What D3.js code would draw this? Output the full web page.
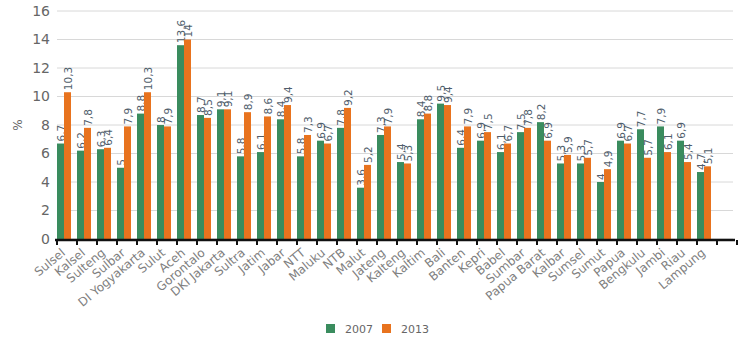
<!DOCTYPE html>
<html><head><meta charset="utf-8">
<script src="https://cdn.jsdelivr.net/npm/d3@7"></script>
<style>body{margin:0;background:#fff}svg{display:block}</style>
</head><body>
<svg id="c" width="743" height="342"></svg>
<script>
const categories = ["Sulsel","Kalsel","Sulteng","Sulbar","DI Yogyakarta","Sulut","Aceh","Gorontalo","DKI Jakarta","Sultra","Jatim","Jabar","NTT","Maluku","NTB","Malut","Jateng","Kalteng","Kaltim","Bali","Banten","Kepri","Babel","Sumbar","Papua Barat","Kalbar","Sumsel","Sumut","Papua","Bengkulu","Jambi","Riau","Lampung"];
const values2007 = [6.7,6.2,6.3,5,8.8,8,13.6,8.7,9.1,5.8,6.1,8.4,5.8,6.9,7.8,3.6,7.3,5.4,8.4,9.5,6.4,6.9,6.1,7.5,8.2,5.3,5.3,4,6.9,7.7,7.9,6.9,4.7];
const values2013 = [10.3,7.8,6.4,7.9,10.3,7.9,14,8.5,9.1,8.9,8.6,9.4,7.3,6.7,9.2,5.2,7.9,5.3,8.8,9.4,7.9,7.5,6.7,7.8,6.9,5.9,5.7,4.9,6.7,5.7,6.1,5.4,5.1];
const seriesNames = ["2007","2013"];
const yTicks = [0,2,4,6,8,10,12,14,16];
const colors = ["#3a8c5e","#e8731e"];

const svg = d3.select("#c");
const pLeft = 55, pRight = 735, pTop = 11, pBottom = 239;
const slots = d3.range(categories.length + 1);
const x = d3.scaleBand().domain(slots).range([pLeft, pRight]).paddingInner(0).paddingOuter(0);
const y = d3.scaleLinear().domain([0,16]).range([pBottom, pTop]);
const inner = d3.scaleBand().domain([0,1]).range([2, x.bandwidth()-4]);

// gridlines
svg.append("g").selectAll("line").data(yTicks).join("line")
  .attr("x1", pLeft+2).attr("x2", pRight-2)
  .attr("y1", d=>y(d)).attr("y2", d=>y(d))
  .attr("stroke", "#d8d8d8").attr("stroke-width", 1);

// y labels
svg.append("g").selectAll("text").data(yTicks).join("text")
  .attr("x", 50).attr("y", d=>y(d)).attr("dy","0.35em")
  .attr("text-anchor","end").attr("fill","#666")
  .style("font-family","Verdana, 'DejaVu Sans', sans-serif").style("font-size","14px")
  .text(d=>d);

svg.append("text").attr("transform","translate(22,125) rotate(-90)")
  .attr("text-anchor","middle").attr("fill","#666")
  .style("font-family","Verdana, 'DejaVu Sans', sans-serif").style("font-size","12px").text("%");

// bars
const series = [values2007, values2013];
series.forEach((vals, s) => {
  const g = svg.append("g");
  g.selectAll("rect").data(vals).join("rect")
    .attr("x", (d,i)=>x(i)+inner(s)).attr("width", inner.bandwidth())
    .attr("y", d=>y(d)).attr("height", d=>pBottom-y(d))
    .attr("fill", colors[s]);
  g.selectAll("text").data(vals).join("text")
    .attr("transform", (d,i)=>`translate(${x(i)+inner(s)+inner.bandwidth()/2+4},${y(d)-2}) rotate(-90)`)
    .attr("fill","#4f5d6b")
    .style("font-family","Verdana, 'DejaVu Sans', sans-serif").style("font-size","10.5px")
    .text(d=>String(d).replace(".",","));
});

// x axis
const axis = svg.append("g");
axis.append("line").attr("x1", pLeft).attr("x2", pRight).attr("y1", pBottom+1).attr("y2", pBottom+1)
  .attr("stroke","#111").attr("stroke-width",2.5);
axis.selectAll(".tk").data(d3.range(categories.length+2)).join("line")
  .attr("x1", d=>pLeft+2+d*x.step()).attr("x2", d=>pLeft+2+d*x.step())
  .attr("y1", pBottom+1).attr("y2", pBottom+6).attr("stroke","#111").attr("stroke-width",2);

svg.append("g").selectAll("text").data(categories).join("text")
  .attr("transform", (d,i)=>`translate(${x(i)+x.bandwidth()/2+1},${pBottom+15}) rotate(-40)`)
  .attr("text-anchor","end").attr("fill","#808080")
  .style("font-family","Verdana, 'DejaVu Sans', sans-serif").style("font-size","12px")
  .text(d=>d);

// legend
const lg = svg.append("g").attr("transform","translate(326,324)");
seriesNames.forEach((n,i)=>{
  const gx = i*56;
  lg.append("rect").attr("x",gx).attr("y",0).attr("width",9).attr("height",9).attr("fill",colors[i]);
  lg.append("text").attr("x",gx+19).attr("y",8.5).attr("fill","#666")
    .style("font-family","Verdana, 'DejaVu Sans', sans-serif").style("font-size","11px").text(n);
});
</script>
</body></html>
